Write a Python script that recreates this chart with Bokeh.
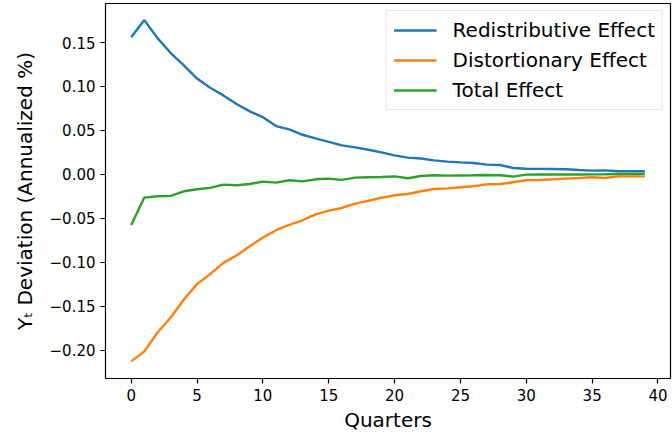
from bokeh.plotting import figure
from bokeh.models import Range1d, FixedTicker, CustomJSTickFormatter, Legend, LegendItem
from bokeh.embed import file_html
from bokeh.resources import INLINE

# Impulse response of output (annualized %), by quarter
quarters = list(range(40))
redistributive = [0.156, 0.1755, 0.155, 0.138, 0.124, 0.109, 0.0985, 0.0898, 0.080, 0.0716,
                  0.065, 0.0549, 0.0511, 0.045, 0.0409, 0.037, 0.033, 0.0307, 0.028, 0.025,
                  0.0216, 0.019, 0.018, 0.0159, 0.0144, 0.0136, 0.0129, 0.011, 0.0106, 0.0072,
                  0.0064, 0.0062, 0.006, 0.0057, 0.0049, 0.0042, 0.0045, 0.0034, 0.0034, 0.0034]
distortionary = [-0.2129, -0.2015, -0.180, -0.163, -0.1424, -0.125, -0.1136, -0.1008, -0.0924, -0.0818,
                 -0.072, -0.0636, -0.0576, -0.0523, -0.0455, -0.0413, -0.0383, -0.0333, -0.0303, -0.0267,
                 -0.0239, -0.0224, -0.0193, -0.0167, -0.016, -0.0148, -0.0136, -0.0114, -0.011, -0.0091,
                 -0.0068, -0.0064, -0.0057, -0.0049, -0.0042, -0.0034, -0.0042, -0.0023, -0.0023, -0.0023]
total = [-0.0576, -0.0265, -0.025, -0.0246, -0.0193, -0.017, -0.0155, -0.0117, -0.0125, -0.011,
         -0.0083, -0.0095, -0.0068, -0.008, -0.0057, -0.0049, -0.0064, -0.0038, -0.0034, -0.003,
         -0.0023, -0.0045, -0.0019, -0.0011, -0.0015, -0.0013, -0.0011, -0.0008, -0.001, -0.0026,
         -0.0004, -0.0003, -0.0003, -0.0002, -0.0002, -0.0001, 0.0000, 0.0003, 0.0004, 0.0005]

series_names = ["Redistributive Effect", "Distortionary Effect", "Total Effect"]
series_colors = ["#1f77b4", "#ff7f0e", "#2ca02c"]
x_ticks = [0, 5, 10, 15, 20, 25, 30, 35, 40]
y_ticks = [-0.20, -0.15, -0.10, -0.05, 0.0, 0.05, 0.10, 0.15]

FONT = "DejaVu Sans"

p = figure(width=672, height=439, output_backend="svg", toolbar_location=None,
           x_range=Range1d(-1.95, 40.95), y_range=Range1d(-0.2324, 0.1944),
           min_border_left=105, min_border_right=2, min_border_top=3, min_border_bottom=61)
p.background_fill_color = "white"
p.border_fill_color = "white"
p.outline_line_color = "black"
p.outline_line_width = 1.2
p.grid.visible = False

renderers = []
for ys, color in zip([redistributive, distortionary, total], series_colors):
    r = p.line(quarters, ys, line_color=color, line_width=2.4)
    renderers.append(r)

legend = Legend(items=[LegendItem(label=n, renderers=[r]) for n, r in zip(series_names, renderers)],
                location="top_right")
legend.margin = 7
legend.padding = 7
legend.spacing = 6
legend.glyph_width = 43
legend.glyph_height = 22
legend.label_height = 22
legend.label_standoff = 16
legend.label_text_font = FONT
legend.label_text_font_size = "20px"
legend.label_text_color = "black"
legend.border_line_color = "#cccccc"
legend.border_line_width = 1.2
legend.background_fill_alpha = 0.8
p.add_layout(legend)

for ax in (p.xaxis[0], p.yaxis[0]):
    ax.axis_line_color = None
    ax.major_tick_line_color = "black"
    ax.major_tick_line_width = 1.2
    ax.major_tick_out = 5
    ax.major_tick_in = 0
    ax.minor_tick_line_color = None
    ax.major_label_text_font = FONT
    ax.major_label_text_font_size = "15px"
    ax.major_label_text_color = "black"
    ax.axis_label_text_font = FONT
    ax.axis_label_text_font_size = "20px"
    ax.axis_label_text_font_style = "normal"
    ax.axis_label_text_color = "black"
    ax.major_label_standoff = 5

p.xaxis[0].ticker = FixedTicker(ticks=x_ticks)
p.yaxis[0].ticker = FixedTicker(ticks=y_ticks)
p.yaxis[0].formatter = CustomJSTickFormatter(
    code="var s = Math.abs(tick) < 1e-9 ? '0.00' : tick.toFixed(2); return s.replace('-', '\u2212');")
p.xaxis[0].axis_label = "Quarters"
p.yaxis[0].axis_label = "Y\u209c Deviation (Annualized %)"
p.xaxis[0].axis_label_standoff = 4
p.yaxis[0].axis_label_standoff = 10

open("out.html", "w").write(file_html(p, INLINE))
